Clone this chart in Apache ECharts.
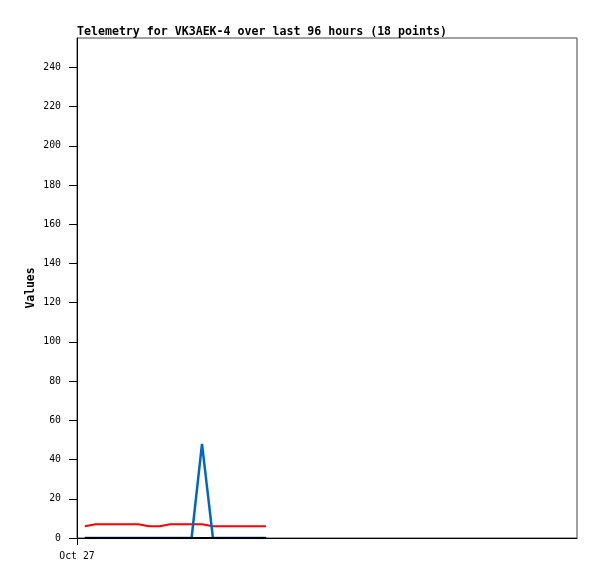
<!DOCTYPE html>
<html>
<head>
<meta charset="utf-8">
<script src="https://cdn.jsdelivr.net/npm/echarts@6/dist/echarts.min.js"></script>
<style>html,body{margin:0;padding:0;background:#fff}#c{width:597px;height:579px}</style>
</head>
<body>
<div id="c"></div>
<script>
const titleText = 'Telemetry for VK3AEK-4 over last 96 hours (18 points)';
const hours = [1.5, 3.6, 5.6, 7.7, 9.7, 11.8, 13.8, 15.9, 17.9, 19.9, 22.0, 24.0, 26.1, 28.1, 30.2, 32.2, 34.3, 36.3];
const redValues = [6, 7, 7, 7, 7, 7, 6, 6, 7, 7, 7, 7, 6, 6, 6, 6, 6, 6];
const blueValues = [0, 0, 0, 0, 0, 0, 0, 0, 0, 0, 0, 48, 0, 0, 0, 0, 0, 0];
const blackValues = [0, 0, 0, 0, 0, 0, 0, 0, 0, 0, 0, 0, 0, 0, 0, 0, 0, 0];
const yTicks = [0, 20, 40, 60, 80, 100, 120, 140, 160, 180, 200, 220, 240];
const xTicks = [0];
const xTickLabels = ['Oct 27'];

const pair = (vals) => hours.map((h, i) => [h, vals[i]]);
const mono = 'DejaVu Sans Mono';

const chart = echarts.init(document.getElementById('c'), null, {renderer: 'canvas'});
chart.setOption({
  animation: false,
  backgroundColor: '#fff',
  title: {
    text: titleText, left: 77, top: 26, padding: 0,
    textStyle: {fontFamily: mono, fontWeight: 'bold', fontSize: 11.6, color: '#000'}
  },
  grid: {left: 77, right: 20, top: 38, bottom: 41, show: true, borderColor: '#444', borderWidth: 1, backgroundColor: 'transparent'},
  xAxis: {
    type: 'value', min: 0, max: 96,
    axisLine: {show: true, lineStyle: {color: '#000', width: 1}},
    axisTick: {show: true, length: 7, customValues: xTicks, lineStyle: {color: '#000'}},
    axisLabel: {
      customValues: xTicks, margin: 13,
      formatter: (v) => { const i = xTicks.indexOf(v); return i >= 0 ? xTickLabels[i] : ''; },
      fontFamily: mono, fontSize: 9.8, color: '#000'
    },
    splitLine: {show: false}
  },
  yAxis: {
    type: 'value', min: 0, max: 255,
    name: 'Values', nameLocation: 'middle', nameRotate: 90, nameGap: 40, nameMoveOverlap: false,
    nameTextStyle: {fontFamily: mono, fontWeight: 'bold', fontSize: 11.4, color: '#000'},
    axisLine: {show: true, lineStyle: {color: '#000', width: 1}},
    axisTick: {show: true, length: 8, customValues: yTicks, lineStyle: {color: '#000'}},
    axisLabel: {customValues: yTicks, margin: 16, fontFamily: mono, fontSize: 9.8, color: '#000'},
    splitLine: {show: false}
  },
  series: [
    {type: 'line', data: pair(redValues), showSymbol: false, lineStyle: {color: '#ff0000', width: 2.2}, z: 2},
    {type: 'line', data: pair(blueValues), showSymbol: false, lineStyle: {color: '#0066cc', width: 2.5}, z: 3},
    {type: 'line', data: pair(blackValues), showSymbol: false, lineStyle: {color: '#000000', width: 2}, z: 4}
  ]
});
</script>
</body>
</html>
